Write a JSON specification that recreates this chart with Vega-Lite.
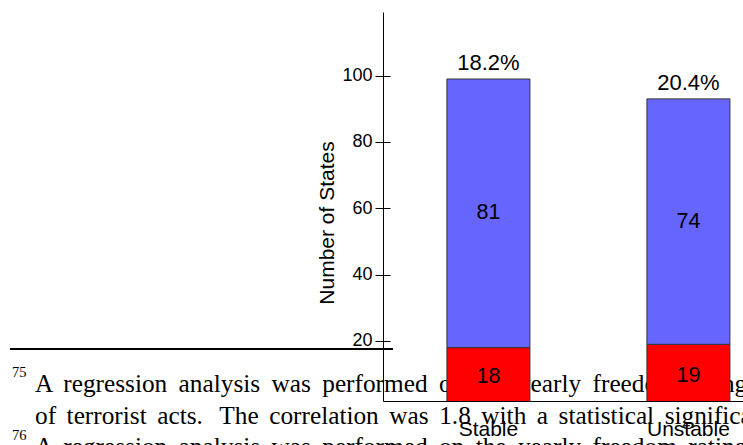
{
  "$schema": "https://vega.github.io/schema/vega-lite/v6.json",
  "width": 360,
  "height": 389,
  "padding": {"left": 383, "top": 12, "right": 0, "bottom": 44},
  "autosize": {"type": "none"},
  "background": "white",
  "config": {"view": {"stroke": null}, "axis": {"grid": false}},
  "resolve": {"scale": {"y": "independent"}},
  "layer": [
    {
      "data": {"values": [
        {"line": 1, "num": "75", "text": "A \u2009regression \u2009analysis \u2009was \u2009performed \u2009on \u2009the \u2009yearly \u2009freedom \u2009rating \u2009and \u2009the \u2009number"},
        {"line": 2, "num": "", "text": "of \u2006terrorist \u2006acts. \u2009\u2009The \u2006correlation \u2006was \u20061.8 \u2006with \u2006a \u2006statistical \u2006significance \u2006of"},
        {"line": 3, "num": "76", "text": "A \u2009regression \u2009analysis \u2009was \u2009performed \u2009on \u2009the \u2009yearly \u2009freedom \u2009rating \u2009and \u2009the \u2009number"}
      ]},
      "encoding": {
        "y": {"field": "line", "type": "quantitative", "scale": {"domain": [1, 3], "range": [380, 443]}, "axis": null}
      },
      "layer": [
        {
          "mark": {"type": "text", "align": "left", "baseline": "alphabetic", "font": "Liberation Serif", "fontSize": 25.3, "color": "black", "x": -348},
          "encoding": {"text": {"field": "text"}}
        },
        {
          "mark": {"type": "text", "align": "left", "baseline": "alphabetic", "font": "Liberation Serif", "fontSize": 14.5, "color": "black", "x": -371, "dy": -15},
          "encoding": {"text": {"field": "num"}}
        }
      ]
    },
    {
      "data": {"values": [{}]},
      "mark": {"type": "rule", "color": "black", "strokeWidth": 2},
      "encoding": {"x": {"value": -373}, "x2": {"value": 10}, "y": {"value": 337}}
    },
    {
      "data": {"values": [
        {"status": "Stable", "group": "With terrorism", "count": 18, "pct": null},
        {"status": "Stable", "group": "Without terrorism", "count": 81, "pct": "18.2%"},
        {"status": "Unstable", "group": "With terrorism", "count": 19, "pct": null},
        {"status": "Unstable", "group": "Without terrorism", "count": 74, "pct": "20.4%"}
      ]},
      "transform": [
        {"stack": "count", "groupby": ["status"], "sort": [{"field": "group", "order": "ascending"}], "as": ["y0", "y1"]}
      ],
      "resolve": {"axis": {"y": "independent"}},
      "layer": [
        {
          "mark": {"type": "bar", "stroke": "#333333", "strokeWidth": 1, "clip": true},
          "encoding": {
            "x": {
              "field": "status", "type": "nominal", "sort": ["Stable", "Unstable"],
              "scale": {"paddingInner": 0.585, "paddingOuter": 0.1925, "align": 0.83},
              "axis": {"orient": "bottom", "title": null, "domain": true, "domainColor": "black", "domainWidth": 1, "ticks": false, "labelAngle": 0, "labelPadding": 17, "labelFont": "Liberation Sans", "labelFontSize": 21, "labelColor": "black"}
            },
            "y": {
              "field": "y0", "type": "quantitative",
              "scale": {"domain": [1.9, 119.2], "nice": false, "zero": false},
              "axis": {"orient": "left", "offset": -7, "values": [20, 40, 60, 80, 100], "domain": false, "ticks": true, "tickSize": 15, "tickColor": "black", "tickWidth": 1, "labelPadding": 3, "labelFont": "Liberation Sans", "labelFontSize": 18, "labelColor": "black", "title": "Number of States", "titleFont": "Liberation Sans", "titleFontSize": 21, "titleFontWeight": "normal", "titleColor": "black", "titlePadding": 4, "titleY": 210.5}
            },
            "y2": {"field": "y1"},
            "color": {"field": "group", "type": "nominal", "scale": {"domain": ["With terrorism", "Without terrorism"], "range": ["#ff0000", "#6666ff"]}, "legend": null}
          }
        },
        {
          "transform": [{"fold": ["y0", "y1"], "as": ["edge", "value"]}],
          "mark": {"type": "text", "align": "center", "baseline": "middle", "font": "Liberation Sans", "fontSize": 21.5, "color": "black"},
          "encoding": {
            "x": {"field": "status", "type": "nominal", "sort": ["Stable", "Unstable"]},
            "y": {
              "aggregate": "mean", "field": "value", "type": "quantitative",
              "axis": {"orient": "left", "domain": true, "domainColor": "black", "domainWidth": 1, "ticks": false, "labels": false, "title": null}
            },
            "detail": {"field": "group"},
            "text": {"aggregate": "max", "field": "count", "type": "quantitative"}
          }
        },
        {
          "transform": [{"filter": "isValid(datum.pct)"}],
          "mark": {"type": "text", "align": "center", "baseline": "alphabetic", "dy": -9, "font": "Liberation Sans", "fontSize": 22, "color": "black"},
          "encoding": {
            "x": {"field": "status", "type": "nominal", "sort": ["Stable", "Unstable"]},
            "y": {"field": "y1", "type": "quantitative", "axis": null},
            "text": {"field": "pct"}
          }
        }
      ]
    }
  ]
}
